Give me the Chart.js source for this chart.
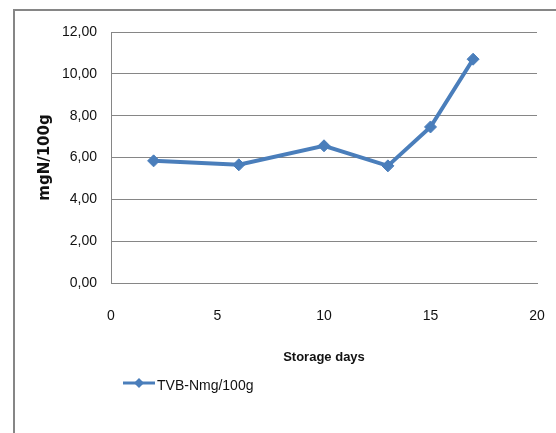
<!DOCTYPE html>
<html>
<head>
<meta charset="utf-8">
<script src="https://cdn.jsdelivr.net/npm/chart.js@4"></script>
<style>
  html, body { margin: 0; padding: 0; background: #fff; overflow: hidden; }
  #wrap { position: relative; width: 556px; height: 433px; }
</style>
</head>
<body>
<div id="wrap"><canvas id="myChart" width="556" height="433"></canvas></div>
<script>
// values
const days = [2, 6, 10, 13, 15, 17];
const tvbn = [5.84, 5.65, 6.56, 5.6, 7.46, 10.7];
const seriesName = "TVB-Nmg/100g";
const yTickLabels = ["0,00", "2,00", "4,00", "6,00", "8,00", "10,00", "12,00"];
const xTickLabels = ["0", "5", "10", "15", "20"];

const blue = "#4A7EBB";
const grey = "#868686";
const sans = "'Liberation Sans', Arial, sans-serif";

// outer frame + legend drawn on the canvas
const framePlugin = {
  id: "frame",
  beforeDraw(chart) {
    const ctx = chart.ctx;
    ctx.save();
    ctx.strokeStyle = grey;
    ctx.lineWidth = 2;
    ctx.beginPath();
    ctx.moveTo(14, 433);
    ctx.lineTo(14, 10);
    ctx.lineTo(556, 10);
    ctx.stroke();
    ctx.restore();
  },
  afterDraw(chart) {
    const ctx = chart.ctx;
    ctx.save();
    ctx.strokeStyle = blue;
    ctx.lineWidth = 3;
    ctx.beginPath();
    ctx.moveTo(123, 383);
    ctx.lineTo(155, 383);
    ctx.stroke();
    ctx.fillStyle = blue;
    ctx.beginPath();
    ctx.moveTo(139, 378);
    ctx.lineTo(144, 383);
    ctx.lineTo(139, 388);
    ctx.lineTo(134, 383);
    ctx.closePath();
    ctx.fill();
    ctx.fillStyle = "#111";
    ctx.font = "14px " + sans;
    ctx.textBaseline = "middle";
    ctx.fillText(seriesName, 157, 386);
    ctx.restore();
  },
};

const ctx = document.getElementById("myChart").getContext("2d");
new Chart(ctx, {
  type: "line",
  data: {
    datasets: [
      {
        label: seriesName,
        data: days.map((d, i) => ({ x: d, y: tvbn[i] })),
        borderColor: blue,
        backgroundColor: blue,
        borderWidth: 4,
        pointStyle: "rectRot",
        pointRadius: 6,
        pointBorderWidth: 1,
        tension: 0,
      },
    ],
  },
  options: {
    responsive: false,
    animation: false,
    layout: { padding: { left: 27, top: 32, right: 19, bottom: 60 } },
    plugins: { legend: { display: false }, tooltip: { enabled: false } },
    scales: {
      x: {
        type: "linear",
        min: 0,
        max: 20,
        ticks: {
          stepSize: 5,
          padding: 3,
          color: "#111",
          font: { family: sans, size: 14 },
          callback: (v) => xTickLabels[v / 5],
        },
        // invisible tick marks just push the labels down
        grid: { display: false, drawTicks: true, tickLength: 22, tickColor: "rgba(0,0,0,0)" },
        border: { display: true, color: grey, width: 1 },
        title: {
          display: true,
          text: "Storage days",
          color: "#111",
          font: { family: sans, size: 13, weight: "bold" },
          padding: { top: 0, bottom: 8 },
        },
        afterFit: (s) => { s.height = 90; },
      },
      y: {
        min: 0,
        max: 12,
        ticks: {
          stepSize: 2,
          padding: 14,
          color: "#111",
          font: { family: sans, size: 14 },
          callback: (v) => yTickLabels[v / 2],
        },
        grid: { color: grey, lineWidth: 1, drawTicks: false },
        border: { display: true, color: grey, width: 1 },
        title: {
          display: true,
          text: "mgN/100g",
          color: "#111",
          font: { family: "'DejaVu Sans', sans-serif", size: 15, weight: "bold" },
          padding: { top: 9, bottom: 0 },
        },
        afterFit: (s) => { s.width = 84; },
      },
    },
  },
  plugins: [framePlugin],
});
</script>
</body>
</html>
